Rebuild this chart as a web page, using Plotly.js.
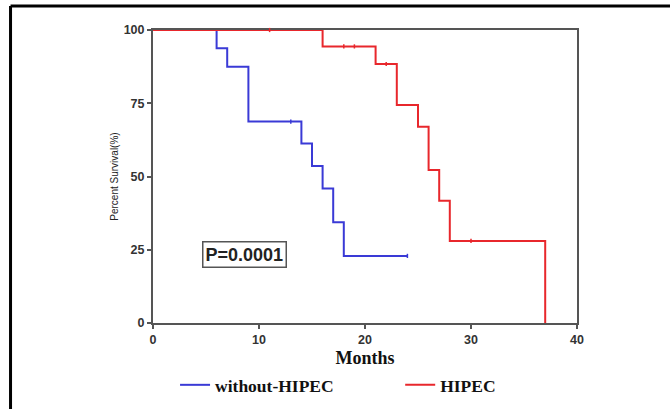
<!DOCTYPE html>
<html><head><meta charset="utf-8">
<script src="https://cdn.plot.ly/plotly-3.0.1.min.js"></script>
<style>html,body{margin:0;padding:0;background:#fff}#c{width:670px;height:409px}</style>
</head><body><div id="c"></div>
<script>
const blueName = "without-HIPEC";
const blueTimes = [0, 6, 7, 9, 14, 15, 16, 17, 18, 24];
const blueSurv  = [100, 93.75, 87.5, 68.75, 61.3, 53.6, 45.9, 34.4, 22.9, 22.9];
const blueCensorT = [13, 24];
const blueCensorS = [68.75, 22.9];

const redName = "HIPEC";
const redTimes = [0, 16, 21, 23, 25, 26, 27, 28, 37];
const redSurv  = [100, 94.4, 88.4, 74.4, 67.0, 52.2, 41.7, 28.0, 0];
const redCensorT = [11, 18, 19, 22, 30];
const redCensorS = [100, 94.4, 94.4, 88.4, 28.0];

const xTicks = [0, 10, 20, 30, 40];
const yTicks = [0, 25, 50, 75, 100];
const pText = "P=0.0001";

const BLUE = "#3a3ad6", RED = "#e8272c";
const traces = [
  {x: blueTimes, y: blueSurv, mode: "lines", line: {shape: "hv", color: BLUE, width: 2}, name: blueName, legend: "legend", cliponaxis: false},
  {x: redTimes, y: redSurv, mode: "lines", line: {shape: "hv", color: RED, width: 2}, name: redName, legend: "legend2", cliponaxis: false},
  {x: blueCensorT, y: blueCensorS, mode: "markers", marker: {symbol: "line-ns", size: 3, line: {color: BLUE, width: 1.5}}, showlegend: false, cliponaxis: false},
  {x: redCensorT, y: redCensorS, mode: "markers", marker: {symbol: "line-ns", size: 3, line: {color: RED, width: 1.5}}, showlegend: false, cliponaxis: false}
];

const axisCommon = {
  showgrid: false, zeroline: false, showline: true, mirror: true,
  linecolor: "#555", linewidth: 2, ticks: "outside", ticklen: 4, tickwidth: 2, tickcolor: "#555",
  tickfont: {family: "Liberation Sans, Arial, sans-serif", size: 12.5, color: "#333", weight: "bold"},
  layer: "below traces", fixedrange: true
};

const legendFont = {family: "Liberation Serif, Times New Roman, serif", size: 17.5, color: "#111", weight: "bold"};

const layout = {
  width: 670, height: 409,
  margin: {l: 153, r: 93, t: 30, b: 86, autoexpand: false},
  paper_bgcolor: "#fff", plot_bgcolor: "#fff",
  xaxis: Object.assign({}, axisCommon, {
    range: [0, 40], tickvals: xTicks, ticktext: xTicks.map(String),
    title: {text: "Months", standoff: 5, font: {family: "Liberation Serif, Times New Roman, serif", size: 18, color: "#111", weight: "bold"}}
  }),
  yaxis: Object.assign({}, axisCommon, {
    range: [0, 100], tickvals: yTicks, ticktext: yTicks.map(String),
    title: {text: "Percent Survival(%)", standoff: 3, font: {family: "Liberation Sans, Arial, sans-serif", size: 10, color: "#222"}}
  }),
  showlegend: true,
  legend: {
    orientation: "h", x: 0.052, xanchor: "left", y: -0.15, yanchor: "top",
    font: legendFont, itemwidth: 30, bgcolor: "rgba(0,0,0,0)"
  },
  legend2: {
    orientation: "h", x: 0.583, xanchor: "left", y: -0.15, yanchor: "top",
    font: legendFont, itemwidth: 30, bgcolor: "rgba(0,0,0,0)"
  },
  annotations: [{
    x: 8.6, y: 23.5, xref: "x", yref: "y", text: pText, showarrow: false,
    font: {family: "Liberation Sans, Arial, sans-serif", size: 18, color: "#222", weight: "bold"},
    bordercolor: "#555", borderwidth: 1.5, borderpad: 2, bgcolor: "#fff"
  }],
  shapes: [
    {type: "line", xref: "paper", yref: "paper", x0: -0.336, x1: 1.25, y0: 1.082, y1: 1.082, line: {color: "#000", width: 3}},
    {type: "line", xref: "paper", yref: "paper", x0: -0.336, x1: -0.336, y0: 1.082, y1: -0.3, line: {color: "#000", width: 3}}
  ]
};

Plotly.newPlot("c", traces, layout, {displayModeBar: false, staticPlot: true});
</script></body></html>
